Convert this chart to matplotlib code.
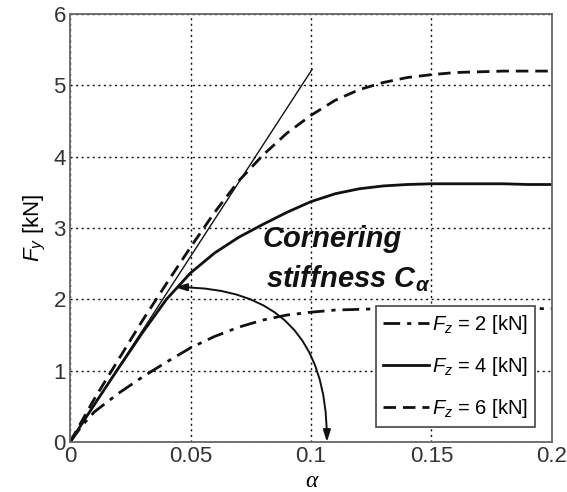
import numpy as np
import matplotlib
matplotlib.use("Agg")
import matplotlib.pyplot as plt

plt.rcParams["font.family"] = ["Liberation Sans", "DejaVu Sans"]
plt.rcParams["mathtext.fontset"] = "custom"
plt.rcParams["mathtext.rm"] = "Liberation Sans"
plt.rcParams["mathtext.it"] = "Liberation Sans:italic"
plt.rcParams["mathtext.bf"] = "Liberation Sans:bold:italic"

# Slip angle samples
alpha = [0.0, 0.005, 0.01, 0.02, 0.03, 0.04, 0.05, 0.06, 0.07, 0.08, 0.09,
         0.10, 0.11, 0.12, 0.13, 0.14, 0.15, 0.16, 0.17, 0.18, 0.19, 0.20]

# Lateral force [kN] for each vertical load
fy_fz2 = [0.0, 0.23, 0.42, 0.68, 0.91, 1.12, 1.32, 1.48, 1.61, 1.71, 1.78,
          1.82, 1.85, 1.86, 1.87, 1.87, 1.87, 1.87, 1.87, 1.87, 1.87, 1.87]
fy_fz4 = [0.0, 0.26, 0.52, 1.03, 1.53, 2.00, 2.37, 2.65, 2.87, 3.05, 3.22,
          3.37, 3.48, 3.55, 3.59, 3.61, 3.62, 3.62, 3.62, 3.62, 3.61, 3.61]
fy_fz6 = [0.0, 0.30, 0.60, 1.15, 1.70, 2.22, 2.73, 3.22, 3.66, 4.02, 4.33,
          4.58, 4.79, 4.94, 5.04, 5.11, 5.15, 5.18, 5.19, 5.20, 5.20, 5.20]

labels = ["$F_z$ = 2 [kN]", "$F_z$ = 4 [kN]", "$F_z$ = 6 [kN]"]

# Initial-slope line (cornering stiffness)
tangent_alpha = [0.0, 0.1005]
tangent_slope = 52.0

# Arc annotation endpoints
arc_start = (0.0436, 2.17)
arc_end = (0.1066, 0.0)

ink = "#111111"

fig = plt.figure(figsize=(5.67, 4.92), dpi=100)
ax = fig.add_axes([0.1235, 0.1016, 0.85, 0.8699])

ax.plot(alpha, fy_fz2, color=ink, lw=2.0, linestyle=(0, (6, 2.5, 1.5, 2.5)), label=labels[0])
ax.plot(alpha, fy_fz4, color=ink, lw=2.0, linestyle="-", label=labels[1])
ax.plot(alpha, fy_fz6, color=ink, lw=2.0, linestyle=(0, (4.5, 2.5)), label=labels[2])
ax.plot(tangent_alpha, [tangent_slope * a for a in tangent_alpha], color=ink, lw=1.0)

ax.annotate("", xy=arc_end, xytext=arc_start,
            arrowprops=dict(arrowstyle="<|-|>,head_length=0.7,head_width=0.22",
                            color=ink, lw=1.4, shrinkA=0, shrinkB=0,
                            connectionstyle="angle3,angleA=0,angleB=90"))

ax.text(0.0797, 2.73, "Cornering", fontsize=21, fontweight="bold", style="italic",
        color=ink, ha="left", va="baseline")
ax.text(0.0815, 2.17, r"stiffness $\mathbf{C_{\alpha}}$", fontsize=21, fontweight="bold",
        style="italic", color=ink, ha="left", va="baseline")

ax.set_xlim(0, 0.2)
ax.set_ylim(0, 6)
ax.set_xticks([0, 0.05, 0.1, 0.15, 0.2])
ax.set_xticklabels(["0", "0.05", "0.1", "0.15", "0.2"])
ax.set_yticks(range(7))
ax.tick_params(labelsize=16, length=0, pad=3, colors="#333333")
ax.grid(True, color=ink, linestyle=(0, (1.5, 2.5)), linewidth=1.0)
for s in ax.spines.values():
    s.set_color("#666666")
    s.set_linewidth(1.3)

ax.set_xlabel("α", fontsize=17, family="Liberation Serif", style="italic", labelpad=3)
ax.set_ylabel("$F_y$ [kN]", fontsize=16, labelpad=4)

leg = ax.legend(loc="lower right", bbox_to_anchor=(0.965, 0.035), fontsize=14.5,
                fancybox=False, framealpha=1, edgecolor="#444444",
                handlelength=2.3, handletextpad=0.15, labelspacing=0.95,
                borderpad=0.35, borderaxespad=0)
leg.get_frame().set_linewidth(1.2)

fig.savefig("out.png", dpi=100)
